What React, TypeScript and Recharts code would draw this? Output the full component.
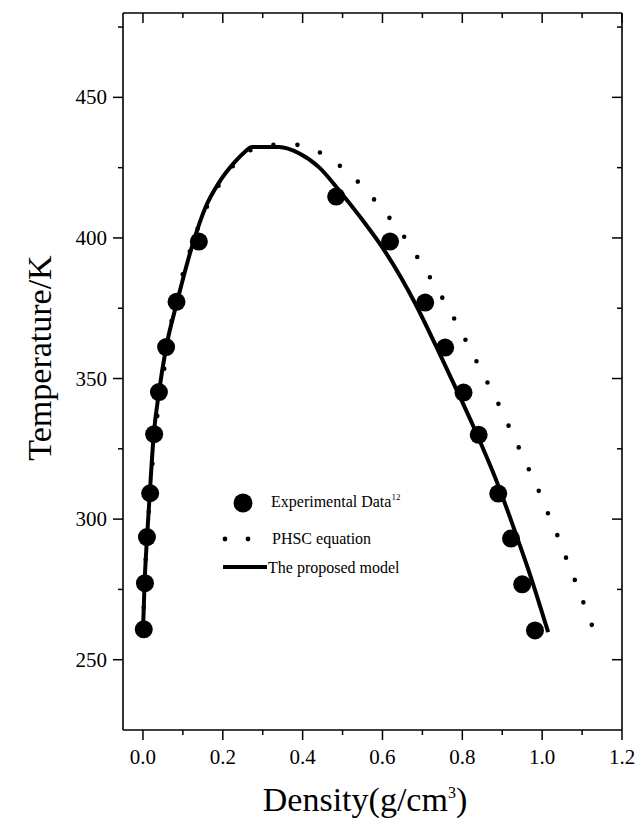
import { ComposedChart, Line, Scatter, XAxis, YAxis, Legend } from "recharts";

const FONT = '"Liberation Serif", "Times New Roman", serif';

// experimental data points (density g/cm3, temperature K)
const EXP_DENSITY = [0.002, 0.005, 0.01, 0.018, 0.028, 0.04, 0.058, 0.084, 0.14, 0.484, 0.619, 0.707, 0.757, 0.803, 0.841, 0.89, 0.922, 0.95, 0.982];
const EXP_TEMP = [260.8, 277.2, 293.6, 309.2, 330.2, 345.2, 361.2, 377.3, 398.7, 414.7, 398.7, 377, 361, 345, 330, 309.1, 293.1, 276.8, 260.4];

// the proposed model curve
const MODEL_DENSITY = [0.0, 0.004, 0.01, 0.017, 0.027, 0.04, 0.058, 0.085, 0.125, 0.157, 0.19, 0.232, 0.253, 0.274, 0.341, 0.392, 0.442, 0.492, 0.545, 0.605, 0.682, 0.737, 0.786, 0.832, 0.888, 0.937, 0.966, 1.015];
const MODEL_TEMP = [260, 277, 293, 309, 330, 345, 361, 377, 398, 411, 419.6, 427.3, 430.3, 432.3, 432.3, 430.0, 425.0, 416.8, 407.3, 395.5, 376.7, 360.7, 345.9, 331.6, 312.7, 293.6, 281.8, 259.8];

// PHSC equation curve
const PHSC_DENSITY = [0.0, 0.004, 0.01, 0.018, 0.03, 0.045, 0.069, 0.094, 0.111, 0.151, 0.19, 0.232, 0.291, 0.33, 0.387, 0.443, 0.498, 0.553, 0.597, 0.657, 0.693, 0.728, 0.762, 0.793, 0.831, 0.86, 0.888, 0.914, 0.94, 0.965, 0.998, 1.021, 1.045, 1.066, 1.089, 1.11, 1.131];
const PHSC_TEMP = [260, 277, 293, 309, 330, 345, 368.4, 384.2, 392.4, 408.2, 418.7, 426.6, 432.5, 433.1, 433.1, 430.4, 425.1, 417.9, 410.6, 399.9, 391.9, 383.9, 375.8, 367.8, 357.4, 349.4, 341.7, 333.8, 325.9, 318.2, 307.9, 299.8, 291.9, 283.9, 275.8, 267.8, 259.8];

const X_MAJOR = [0, 0.2, 0.4, 0.6, 0.8, 1.0, 1.2];
const X_MINOR = [0.1, 0.3, 0.5, 0.7, 0.9, 1.1];
const Y_MAJOR = [250, 300, 350, 400, 450];
const Y_MINOR = [275, 325, 375, 425, 475];

const expData = EXP_DENSITY.map((x, i) => ({ x, t: EXP_TEMP[i] }));
const modelData = MODEL_DENSITY.map((x, i) => ({ x, t: MODEL_TEMP[i] }));
const phscData = PHSC_DENSITY.map((x, i) => ({ x, t: PHSC_TEMP[i] }));

const xTicks = [...X_MAJOR, ...X_MINOR].sort((a, b) => a - b);
const yTicks = [...Y_MAJOR, ...Y_MINOR].sort((a, b) => a - b);

const isMajor = (v: number, list: number[]) => list.some((m) => Math.abs(m - v) < 1e-6);

const labelStyle = { fontFamily: FONT };

const BottomTick = ({ x, y, payload }: any) => {
  const major = isMajor(payload.value, X_MAJOR);
  return (
    <g>
      <line x1={x} y1={y} x2={x} y2={y + (major ? 10 : 5)} stroke="#000" strokeWidth={1.5} />
      {major && (
        <text x={x} y={y + 34} textAnchor="middle" fontSize={21} style={labelStyle} fill="#000">
          {payload.value.toFixed(1)}
        </text>
      )}
    </g>
  );
};

const TopTick = ({ x, y, payload }: any) => {
  const major = isMajor(payload.value, X_MAJOR);
  return <line x1={x} y1={y} x2={x} y2={y + (major ? 10 : 5)} stroke="#000" strokeWidth={1.5} />;
};

const LeftTick = ({ x, y, payload }: any) => {
  const major = isMajor(payload.value, Y_MAJOR);
  return (
    <g>
      <line x1={x - (major ? 10 : 5)} y1={y} x2={x} y2={y} stroke="#000" strokeWidth={1.5} />
      {major && (
        <text x={x - 16} y={y + 7} textAnchor="end" fontSize={21} style={labelStyle} fill="#000">
          {payload.value}
        </text>
      )}
    </g>
  );
};

const RightTick = ({ x, y, payload }: any) => {
  const major = isMajor(payload.value, Y_MAJOR);
  return <line x1={x - (major ? 10 : 5)} y1={y} x2={x} y2={y} stroke="#000" strokeWidth={1.5} />;
};

const LegendBox = () => (
  <svg width={220} height={100} style={{ overflow: "visible" }}>
    <g style={labelStyle} fontSize={16} fill="#000">
      <circle cx={28} cy={18} r={9.5} fill="#000" />
      <text x={56} y={22}>
        Experimental Data<tspan dy={-7} fontSize={9}>12</tspan>
      </text>
      <circle cx={10} cy={54} r={2.4} fill="#000" />
      <circle cx={33} cy={54} r={2.4} fill="#000" />
      <text x={57} y={59}>PHSC equation</text>
      <line x1={8} y1={82} x2={52} y2={82} stroke="#000" strokeWidth={4} />
      <text x={53} y={88}>The proposed model</text>
    </g>
  </svg>
);

const ExpDot = (props: any) => <circle cx={props.cx} cy={props.cy} r={9} fill="#000" />;
const NoDot = () => <g />;

export default function App() {
  return (
    <div style={{ position: "absolute", left: 0, top: 0, background: "#fff" }}>
      <ComposedChart width={637} height={827} margin={{ top: 12, right: 14, left: 0, bottom: 0 }}>
        <XAxis
          xAxisId={0}
          dataKey="x"
          type="number"
          domain={[-0.05, 1.2]}
          allowDataOverflow
          ticks={xTicks}
          interval={0}
          height={97}
          tickSize={0}
          tickMargin={0}
          tickLine={false}
          tick={<BottomTick />}
          axisLine={{ stroke: "#000", strokeWidth: 1.6 }}
          label={{
            content: () => (
              <text x={365} y={811} textAnchor="middle" fontSize={34} style={labelStyle} fill="#000">
                Density(g/cm<tspan dy={-13} fontSize={16}>3</tspan>
                <tspan dy={13}>)</tspan>
              </text>
            ),
          }}
        />
        <XAxis
          xAxisId="top"
          orientation="top"
          dataKey="x"
          type="number"
          domain={[-0.05, 1.2]}
          allowDataOverflow
          ticks={xTicks}
          interval={0}
          height={1}
          tickSize={0}
          tickMargin={0}
          tickLine={false}
          tick={<TopTick />}
          axisLine={{ stroke: "#000", strokeWidth: 1.6 }}
        />
        <YAxis
          yAxisId={0}
          dataKey="t"
          type="number"
          domain={[225, 480]}
          allowDataOverflow
          ticks={yTicks}
          interval={0}
          width={123}
          tickSize={0}
          tickMargin={0}
          tickLine={false}
          tick={<LeftTick />}
          axisLine={{ stroke: "#000", strokeWidth: 1.6 }}
          label={{
            content: () => (
              <text
                x={51}
                y={358}
                textAnchor="middle"
                fontSize={34}
                style={labelStyle}
                fill="#000"
                transform="rotate(-90, 51, 358)"
              >
                Temperature/K
              </text>
            ),
          }}
        />
        <YAxis
          yAxisId="right"
          orientation="right"
          dataKey="t"
          type="number"
          domain={[225, 480]}
          allowDataOverflow
          ticks={yTicks}
          interval={0}
          width={1}
          tickSize={0}
          tickMargin={0}
          tickLine={false}
          tick={<RightTick />}
          axisLine={{ stroke: "#000", strokeWidth: 1.6 }}
        />
        <Legend
          layout="horizontal"
          verticalAlign="middle"
          align="center"
          content={() => <LegendBox />}
          wrapperStyle={{ position: "absolute", left: 215, top: 485, width: 220, height: 100 }}
        />
        <Line
          data={phscData}
          dataKey="t"
          type="monotone"
          stroke="#000"
          strokeWidth={4.6}
          strokeDasharray="0 24"
          strokeLinecap="round"
          dot={false}
          activeDot={false}
          isAnimationActive={false}
          legendType="none"
        />
        <Line
          data={modelData}
          dataKey="t"
          type="monotone"
          stroke="#000"
          strokeWidth={4}
          dot={false}
          activeDot={false}
          isAnimationActive={false}
          legendType="none"
        />
        <Scatter data={expData} dataKey="t" fill="#000" shape={<ExpDot />} isAnimationActive={false} legendType="none" />
        <Scatter
          data={expData}
          dataKey="t"
          xAxisId="top"
          yAxisId="right"
          shape={<NoDot />}
          isAnimationActive={false}
          legendType="none"
        />
      </ComposedChart>
    </div>
  );
}
